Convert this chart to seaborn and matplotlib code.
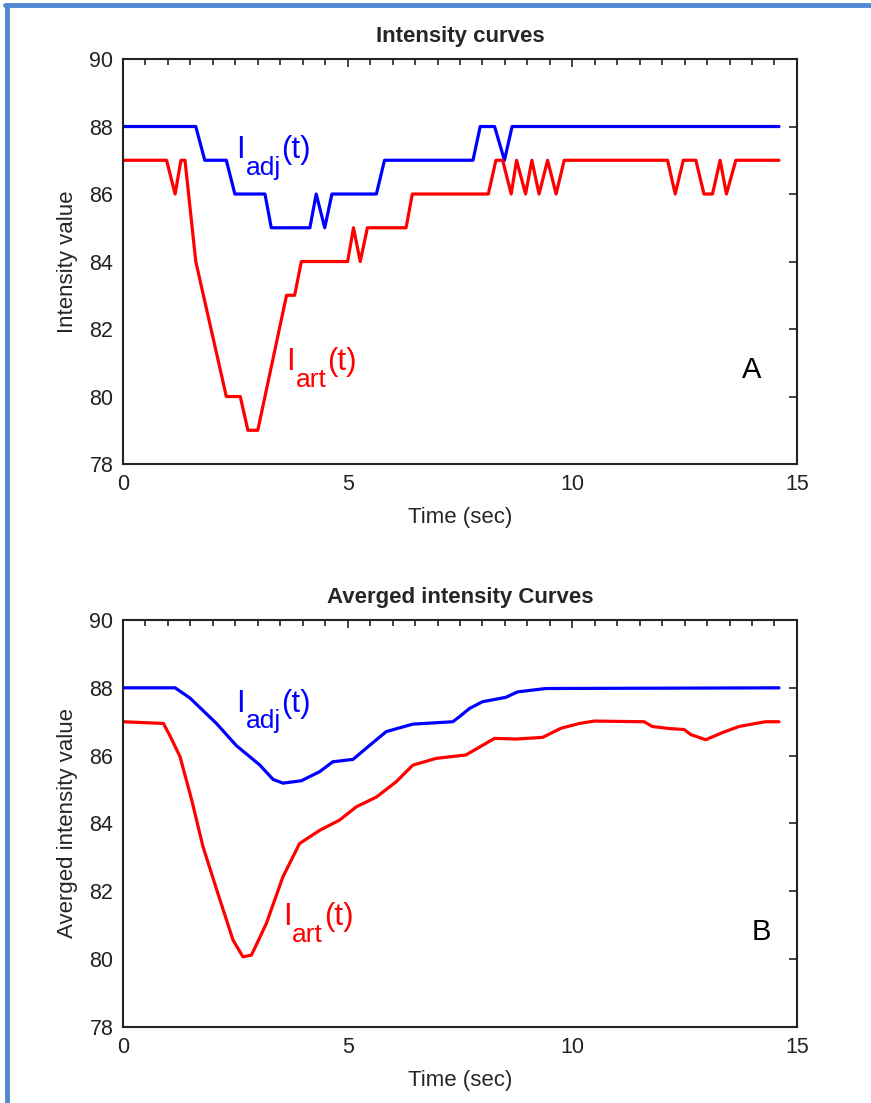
import numpy as np
import pandas as pd
import seaborn as sns
import matplotlib.pyplot as plt
from matplotlib.lines import Line2D
from matplotlib.ticker import MultipleLocator

# ================================
# Data
# ================================
# panel A - raw intensity curves
raw_adj_t = [0, 1.62, 1.82, 2.30, 2.49, 3.16, 3.30, 4.16, 4.30, 4.49, 4.65, 5.64, 5.82,
             7.79, 7.95, 8.27, 8.49, 8.66, 14.60]
raw_adj_v = [88, 88, 87, 87, 86, 86, 85, 85, 86, 85, 86, 86, 87,
             87, 88, 88, 87, 88, 88]

raw_art_t = [0, 0.97, 1.16, 1.29, 1.38, 1.62, 2.30, 2.61, 2.78, 3.00,
             3.64, 3.82, 3.97, 5.00, 5.13, 5.28, 5.44, 6.30, 6.44, 8.13,
             8.30, 8.45, 8.64, 8.76, 8.96, 9.10, 9.26, 9.45, 9.64, 9.82,
             12.12, 12.29, 12.47, 12.75, 12.93, 13.12, 13.29, 13.43, 13.64, 14.60]
raw_art_v = [87, 87, 86, 87, 87, 84, 80, 80, 79, 79,
             83, 83, 84, 84, 85, 84, 85, 85, 86, 86,
             87, 87, 86, 87, 86, 87, 86, 87, 86, 87,
             87, 86, 87, 87, 86, 86, 87, 86, 87, 87]

# panel B - averaged intensity curves
avg_adj_t = [0, 1.16, 1.49, 2.08, 2.52, 3.04, 3.34, 3.56, 3.97, 4.38, 4.67, 5.12,
             5.45, 5.86, 6.45, 7.34, 7.49, 7.71, 8.00, 8.52, 8.78, 9.41, 14.60]
avg_adj_v = [88, 88, 87.7, 86.95, 86.3, 85.73, 85.3, 85.19, 85.26, 85.53, 85.82, 85.89,
             86.26, 86.71, 86.93, 87.0, 87.15, 87.39, 87.59, 87.72, 87.88, 87.98, 88.0]

avg_art_t = [0, 0.90, 1.04, 1.27, 1.53, 1.78, 2.16, 2.45, 2.67, 2.86,
             3.19, 3.56, 3.93, 4.38, 4.82, 5.19, 5.64, 6.08, 6.45, 6.97,
             7.63, 8.27, 8.75, 9.34, 9.75, 10.16, 10.49, 11.60, 11.78, 12.16,
             12.49, 12.64, 12.97, 13.34, 13.71, 14.08, 14.30, 14.60]
avg_art_v = [87.0, 86.95, 86.6, 85.97, 84.69, 83.32, 81.74, 80.56, 80.07, 80.12,
             81.05, 82.43, 83.41, 83.8, 84.1, 84.49, 84.78, 85.23, 85.72, 85.92,
             86.02, 86.51, 86.49, 86.54, 86.81, 86.95, 87.02, 87.0, 86.86, 86.8,
             86.77, 86.62, 86.47, 86.68, 86.86, 86.95, 87.0, 87.0]

x_ticks = [0, 5, 10, 15]
y_ticks = [78, 80, 82, 84, 86, 88, 90]

# ================================
# Style
# ================================
sns.set_style("white")
plt.rcParams['font.family'] = ['Liberation Sans', 'DejaVu Sans']


def curve_label(ax, x, y, sub, color):
    """ I with a big, deep subscript followed by (t) """
    t1 = ax.text(x, y, "I", color=color, fontsize=22.5, ha="left", va="baseline")
    t2 = ax.annotate(sub, xy=(1, y), xycoords=(t1, "data"), xytext=(0.5, -12),
                     textcoords="offset points", color=color, fontsize=19,
                     ha="left", va="baseline")
    ax.annotate("(t)", xy=(1, y), xycoords=(t2, "data"), xytext=(0.5, 0),
                textcoords="offset points", color=color, fontsize=22.5,
                ha="left", va="baseline")


fig = plt.figure(figsize=(8.71, 11.03), dpi=100)
ax_a = fig.add_axes([0.1412, 0.5793, 0.7738, 0.3672])
ax_b = fig.add_axes([0.1412, 0.0689, 0.7738, 0.3690])

panels = [
    (ax_a, raw_adj_t, raw_adj_v, raw_art_t, raw_art_v, "Intensity curves", "Intensity value",
     (2.52, 87.07), (3.63, 80.79), "A", (14.0, 80.8)),
    (ax_b, avg_adj_t, avg_adj_v, avg_art_t, avg_art_v, "Averged intensity Curves",
     "Averged intensity value", (2.52, 87.30), (3.56, 81.0), "B", (14.2, 80.8)),
]

for ax, at, av, rt, rv, title, ylabel, adj_pos, art_pos, letter, letter_pos in panels:
    sns.lineplot(x=at, y=av, ax=ax, color="#0000ff", lw=2.3, estimator=None)
    sns.lineplot(x=rt, y=rv, ax=ax, color="#ff0000", lw=2.3, estimator=None)

    ax.set_xlim(0, 15)
    ax.set_ylim(78, 90)
    ax.set_xticks(x_ticks)
    ax.set_yticks(y_ticks)
    ax.xaxis.set_minor_locator(MultipleLocator(0.5))
    ax.tick_params(which="both", direction="in", top=True, right=True,
                   colors="#222222", labelsize=15.5, width=1.2)
    ax.tick_params(which="major", length=6, pad=7)
    ax.tick_params(which="minor", length=4)
    for sp in ax.spines.values():
        sp.set_visible(True)
        sp.set_color("#222222")
        sp.set_linewidth(1.5)

    ax.set_title(title, fontsize=16, fontweight="bold", pad=12)
    ax.set_ylabel(ylabel, fontsize=16, labelpad=8)
    ax.set_xlabel("Time (sec)", fontsize=16, labelpad=9)

    curve_label(ax, adj_pos[0], adj_pos[1], "adj", "#0000ff")
    curve_label(ax, art_pos[0], art_pos[1], "art", "#ff0000")
    ax.text(letter_pos[0], letter_pos[1], letter, color="black", fontsize=21,
            ha="center", va="center")

# light blue frame on the left and top edge
frame = "#5088d2"
fig.add_artist(Line2D([0.0075, 0.0075], [0, 0.9955], transform=fig.transFigure,
                      color=frame, lw=3.5))
fig.add_artist(Line2D([0.0055, 1.0], [0.9955, 0.9955], transform=fig.transFigure,
                      color=frame, lw=3.5))

fig.savefig("out.png", dpi=100, facecolor="white")
